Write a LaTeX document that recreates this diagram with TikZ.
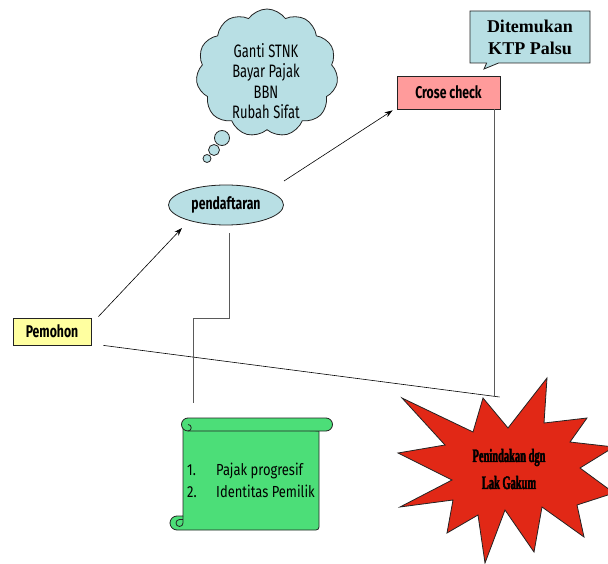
\documentclass[tikz,border=0pt]{standalone}
\usepackage{fontspec}
\usetikzlibrary{shapes.geometric,shapes.symbols,shapes.callouts,arrows.meta}
\newfontfamily\agency[FakeStretch=0.72]{Fira Sans}
\newfontfamily\agencywide[FakeStretch=0.81]{Fira Sans}
\newfontfamily\timesb{Liberation Serif}
\newfontfamily\gakumfont[FakeStretch=0.55,FakeBold=2]{Liberation Serif}

\begin{document}
\begin{tikzpicture}[x=1pt,y=1pt,yscale=-1,xscale=1,
  outline/.style={draw={rgb,255:red,35;green,35;blue,35},line width=0.8pt},
  boldtext/.style={font=\agency\bfseries\fontsize{17}{20}\selectfont},
  arr/.style={-{Stealth[length=8pt,width=5.5pt]},line width=0.6pt},
  grayline/.style={draw={rgb,255:red,90;green,90;blue,90},line width=0.9pt}]
\useasboundingbox (0,0) rectangle (608,564);

%Cloud: Ganti STNK
\node (awan) at (267,73) [cloud, cloud puffs=11, cloud puff arc=110, outline,
  fill={rgb,255:red,184;green,223;blue,228}, minimum width=142pt, minimum height=128pt, inner sep=0pt] {};
\draw [outline, fill={rgb,255:red,184;green,223;blue,228}] (222,138) circle [radius=7.5];
\draw [outline, fill={rgb,255:red,184;green,223;blue,228}] (214,150) circle [radius=5.5];
\draw [outline, fill={rgb,255:red,184;green,223;blue,228}] (207,158.5) circle [radius=4];
\node (idetext) at (266,81) [align=center, font=\agency\fontsize{18}{20.5}\selectfont]
  {Ganti STNK\\Bayar Pajak\\BBN\\Rubah Sifat};

%Callout: KTP Palsu
\node (ktp) at (530,37) [rectangle callout, outline, fill={rgb,255:red,184;green,223;blue,228},
  minimum width=120pt, minimum height=52pt, callout absolute pointer={(484,69)}, callout pointer width=12pt,
  align=center, font=\timesb\bfseries\fontsize{18}{22}\selectfont] {Ditemukan\\KTP Palsu};

%Crose check
\node (crose) at (448.5,92.5) [rectangle, outline, fill={rgb,255:red,255;green,155;blue,155},
  minimum width=103pt, minimum height=33pt, boldtext] {Crose check};

%pendaftaran
\node (daftar) at (226,205) [ellipse, outline, fill={rgb,255:red,184;green,223;blue,228},
  minimum width=115pt, minimum height=40pt, inner sep=0pt, boldtext] {pendaftaran};

%Pemohon
\node (pemohon) at (52,331.5) [rectangle, outline, fill={rgb,255:red,255;green,255;blue,160},
  minimum width=78pt, minimum height=27pt, boldtext] {Pemohon};

%Star: Lak Gakum
\draw [outline, fill={rgb,255:red,225;green,40;blue,22}] (402,398) -- (473,432) -- (483,398) -- (508,428)
  -- (547,378) -- (544,423) -- (587,418) -- (570,442) -- (614,447) -- (580,468) -- (614,493)
  -- (577,505) -- (584,537) -- (542,507) -- (534,552) -- (505,510) -- (485,563) -- (478,515)
  -- (447,533) -- (453,500) -- (400,507) -- (452,480) -- (398,453) -- (445,445) -- cycle;
\node (gakum) at (509,469) [align=center, font=\gakumfont\bfseries\fontsize{19}{27}\selectfont]
  {Penindakan dgn\\Lak Gakum};

%Scroll: syarat
\draw [outline, fill={rgb,255:red,76;green,222;blue,120}] (319,431) -- (319,527) arc [start angle=0, end angle=90, radius=3]
  -- (177,530) arc [start angle=90, end angle=270, radius=7] -- (183,516) -- (183,425) -- cycle;
\draw [outline] (183,516) -- (183,523) arc [start angle=0, end angle=270, radius=3.5] -- (183,519.5);
\draw [outline, fill={rgb,255:red,76;green,222;blue,120}] (188,418) -- (326,418) arc [start angle=270, end angle=450, radius=6.5]
  -- (188,431) arc [start angle=90, end angle=270, radius=6.5] -- cycle;
\draw [outline] (188,431) arc [start angle=90, end angle=-90, radius=3.25] ;
\node (syarat) at (187,480) [anchor=west, inner sep=0pt, align=left, font=\agencywide\fontsize{16}{22}\selectfont]
  {\makebox[29pt][l]{1.}Pajak progresif\\\makebox[29pt][l]{2.}Identitas Pemilik};

%Connectors
\coordinate (p1) at ([shift={(7,-1)}]pemohon.north east);
\coordinate (d1) at ([shift={(-44,23)}]daftar.center);
\coordinate (d2) at ([shift={(58,-24)}]daftar.center);
\coordinate (c1) at ([shift={(-4,1)}]crose.south west);
\coordinate (meet) at (494.5,397);
\coordinate (gulung) at (193,403);
\draw [arr] (p1) -- (d1);
\draw [arr] (d2) -- (c1);
\draw [line width=0.6pt] ([xshift=12pt]pemohon.south east) -- ([xshift=5pt]meet);
\draw [grayline] (crose.south -| meet) -- (meet);
\draw [grayline] ([shift={(3,8)}]daftar.south) -- ++(0,85) -| (gulung);

\end{tikzpicture}
\end{document}
